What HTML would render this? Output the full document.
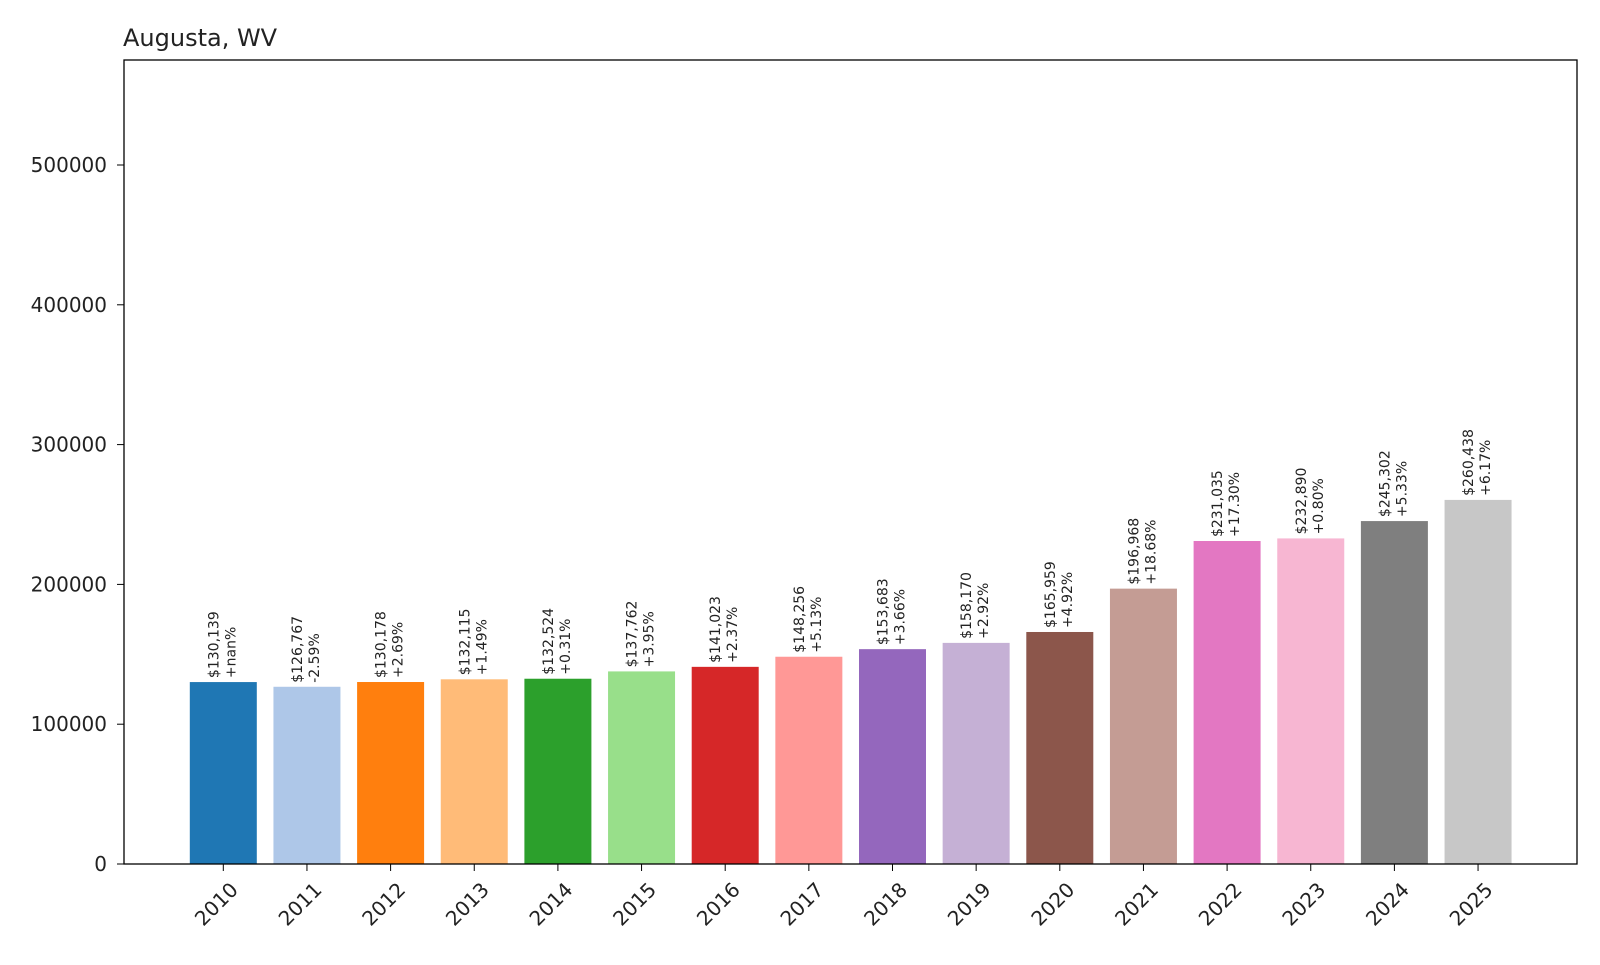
<!DOCTYPE html>
<html><head><meta charset="utf-8"><style>
body{margin:0;background:#fff;}
svg text{font-family:"DejaVu Sans","Liberation Sans",sans-serif;fill:#222;}
</style></head><body>
<svg id="chart" width="1600" height="960">
<text x="123" y="46" font-size="24">Augusta, WV</text>
<g id="ticks"></g><g id="bars"></g>
<rect x="124" y="60" width="1453" height="804" fill="none" stroke="#000" stroke-width="1.3"/>
</svg>
<script>
const years=["2010","2011","2012","2013","2014","2015","2016","2017","2018","2019","2020","2021","2022","2023","2024","2025"];
const values=[130139,126767,130178,132115,132524,137762,141023,148256,153683,158170,165959,196968,231035,232890,245302,260438];
const changes=["+nan%","-2.59%","+2.69%","+1.49%","+0.31%","+3.95%","+2.37%","+5.13%","+3.66%","+2.92%","+4.92%","+18.68%","+17.30%","+0.80%","+5.33%","+6.17%"];
const yTicks=[0,100000,200000,300000,400000,500000];
const colors=["#1f77b4","#aec7e8","#ff7f0e","#ffbb78","#2ca02c","#98df8a","#d62728","#ff9896","#9467bd","#c5b0d5","#8c564b","#c49c94","#e377c2","#f7b6d2","#7f7f7f","#c7c7c7"];
const NS="http://www.w3.org/2000/svg";
const y=v=>864-v*(699/500000);
const x=i=>223.3+i*83.65;
const bw=67;
const tg=document.getElementById("ticks"),bg=document.getElementById("bars");
function mk(tag,attrs,parent){const e=document.createElementNS(NS,tag);for(const k in attrs)e.setAttribute(k,attrs[k]);parent.appendChild(e);return e;}
yTicks.forEach(t=>{
  const l=mk("line",{x1:117,x2:124,y1:y(t),y2:y(t),stroke:"#000"},tg);
  
  
  const tx=mk("text",{x:107,y:y(t)+7,"font-size":20,"text-anchor":"end"},tg);
  tx.textContent=t;
  
  
});
years.forEach((yr,i)=>{
  const cx=x(i),top=y(values[i]);
  const r=mk("rect",{x:cx-bw/2,y:top,width:bw,height:864-top,fill:colors[i]},bg);
  
  
  const tk=mk("line",{x1:cx,x2:cx,y1:864,y2:871,stroke:"#000"},tg);
  
  
  const xl=mk("text",{x:0,y:0,"font-size":20,"text-anchor":"middle",transform:`translate(${cx-2},${909}) rotate(-45)`},tg);
  xl.textContent=yr;
  
  
  const lb=mk("text",{x:0,y:0,"font-size":14,transform:`translate(${cx},${top-4}) rotate(-90)`},bg);
  
  
  const t1=mk("tspan",{x:0,y:-5},lb);t1.textContent="$"+values[i].toLocaleString("en-US");
  const t2=mk("tspan",{x:0,y:12},lb);t2.textContent=changes[i];
});
</script>
</body></html>
